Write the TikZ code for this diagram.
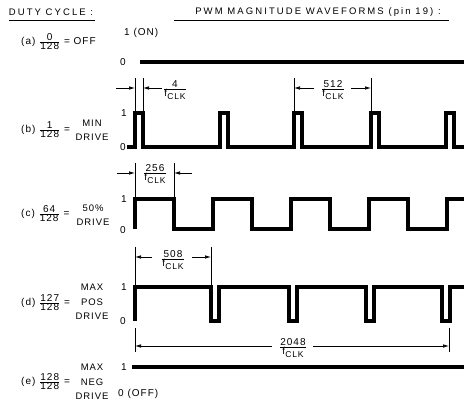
\documentclass[tikz,border=0pt]{standalone}
\usepackage{fontspec}
\setmainfont{Liberation Sans}[LetterSpace=10]
\newfontfamily\headfont{Liberation Sans}[LetterSpace=22]
\usetikzlibrary{arrows.meta,calc,positioning}
\newcommand{\ratiofont}{\fontsize{10pt}{10pt}\selectfont}
\newcommand{\ratio}[2]{$\frac{\hbox{\ratiofont #1}}{\hbox{\ratiofont #2}}$}
\newcommand{\dimfont}{\fontsize{10pt}{10pt}\selectfont}
\newcommand{\dimratio}[2]{$\frac{\hbox{\dimfont #1}}{\hbox{\dimfont #2}}$}
\newcommand{\fclk}{f\raisebox{-2.5pt}{\fontsize{8.5pt}{8.5pt}\selectfont CLK}}
\tikzset{
    wave/.style = {line width=3.2pt, line join=miter},
    rule/.style = {line width=0.9pt},
    ext/.style = {line width=0.7pt},
    dim/.style = {-{Latex[length=6pt,width=3.5pt]}, line width=0.7pt},
    head/.style = {inner sep=0pt, font=\headfont\fontsize{9.5pt}{10pt}\selectfont},
    lbl/.style = {anchor=west, inner sep=0pt, font=\fontsize{10pt}{11pt}\selectfont},
    drv/.style = {align=center, inner sep=0pt, font=\fontsize{9.5pt}{14.5pt}\selectfont},
    lvl/.style = {anchor=east, inner sep=0pt, font=\fontsize{10pt}{11pt}\selectfont},
    frac/.style = {inner sep=0pt}
}
\begin{document}
\begin{tikzpicture}[x=1pt,y=-1pt]
    \useasboundingbox (0,0) rectangle (464,406);

    % headings
    \node[head] (duty) at (51,12) {DUTY CYCLE :};
    \node[head] (pwm) at (318,12) {PWM MAGNITUDE WAVEFORMS (pin 19) :};
    \draw[rule] (9,20) -- (95,20);
    \draw[rule] (174,20) -- (449,20);

    % (a) always off
    \node[lbl] (a) at (21,42) {(a) \ratio{0}{128} = OFF};
    \node[lbl] (a1) at (124,33) {1 (ON)};
    \node[lvl] (a0) at (126,62) {0};
    \draw[wave] (140,62) -- (464,62);

    % (b) one pulse per period
    \node[lbl] (b) at (21,130) {(b) \ratio{1}{128} =};
    \node[drv] (bd) at (92,130) {MIN\\DRIVE};
    \node[lvl] (b1) at (127,113) {1};
    \node[lvl] (b0) at (126,147) {0};
    \draw[wave] (127,147) foreach \x in {135,220,294,371,446} {
        -- (\x,147) -- (\x,113) -- (\x+8,113) -- (\x+8,147) } -- (464,147);

    % 4/fclk, arrows from outside
    \coordinate (p4a) at (135,78);
    \coordinate (p4b) at (143,78);
    \coordinate (t4a) at (116,88);
    \coordinate (t4b) at (162,88);
    \draw[ext] (p4a) -- (p4a |- b1);
    \draw[ext] (p4b) -- (p4b |- b1);
    \draw[dim] (t4a) -- (p4a |- t4a);
    \draw[dim] (t4b) -- (p4b |- t4b);
    \node[frac] (d4) at (175,90) {\dimratio{4}{\fclk}};

    % 512/fclk
    \coordinate (p512a) at (294,78);
    \coordinate (p512b) at (371,78);
    \coordinate (t512a) at (314,88);
    \coordinate (t512b) at (351,88);
    \draw[ext] (p512a) -- (p512a |- b1);
    \draw[ext] (p512b) -- (p512b |- b1);
    \draw[dim] (t512a) -- (p512a |- t512a);
    \draw[dim] (t512b) -- (p512b |- t512b);
    \node[frac] (d512) at (333,90) {\dimratio{512}{\fclk}};

    % (c) square wave
    \node[lbl] (c) at (21,214) {(c) \ratio{64}{128} =};
    \node[drv] (cd) at (93,215) {50\%\\DRIVE};
    \node[lvl] (c1) at (127,199) {1};
    \node[lvl] (c0) at (126,230) {0};
    \draw[wave] (135,229) foreach \x in {135,213,291,369} {
        -- (\x,199) -- (\x+39,199) -- (\x+39,229) -- (\x+78,229) } -- (447,199) -- (464,199);

    % 256/fclk
    \coordinate (p256a) at (135,163);
    \coordinate (p256b) at (174,163);
    \coordinate (t256a) at (117,173);
    \coordinate (t256b) at (192,173);
    \draw[ext] (p256a) -- (p256a |- c1);
    \draw[ext] (p256b) -- (p256b |- c1);
    \draw[dim] (t256a) -- (p256a |- t256a);
    \draw[dim] (t256b) -- (p256b |- t256b);
    \node[frac] (d256) at (155,174) {\dimratio{256}{\fclk}};

    % (d) one gap per period
    \node[lbl] (d) at (21,303) {(d) \ratio{127}{128} =};
    \node[drv] (dd) at (92,302) {MAX\\POS\\DRIVE};
    \node[lvl] (d1) at (127,287) {1};
    \node[lvl] (d0) at (126,321) {0};
    \draw[wave] (135,321) -- (135,287) foreach \x in {211,289,366,442} {
        -- (\x,287) -- (\x,321) -- (\x+8,321) -- (\x+8,287) } -- (464,287);

    % 508/fclk
    \coordinate (p508a) at (135,247);
    \coordinate (p508b) at (211,247);
    \coordinate (t508a) at (152,257);
    \coordinate (t508b) at (192,257);
    \draw[ext] (p508a) -- (p508a |- d1);
    \draw[ext] (p508b) -- (p508b |- d1);
    \draw[dim] (t508a) -- (p508a |- t508a);
    \draw[dim] (t508b) -- (p508b |- t508b);
    \node[frac] (d508) at (173,260) {\dimratio{508}{\fclk}};

    % 2048/fclk
    \coordinate (p2048a) at (135,328);
    \coordinate (p2048b) at (449,328);
    \coordinate (t2048a) at (272,346);
    \coordinate (t2048b) at (313,346);
    \draw[ext] (p2048a) -- ++(0,24);
    \draw[ext] (p2048b) -- ++(0,24);
    \draw[dim] (t2048a) -- (p2048a |- t2048a);
    \draw[dim] (t2048b) -- (p2048b |- t2048b);
    \node[frac] (d2048) at (293,348) {\dimratio{2048}{\fclk}};

    % (e) always on
    \node[lbl] (e) at (21,382) {(e) \ratio{128}{128} =};
    \node[drv] (ed) at (92,382) {MAX\\NEG\\DRIVE};
    \node[lvl] (e1) at (127,367) {1};
    \node[lbl] (e0) at (118,394) {0 (OFF)};
    \draw[wave] (132,367) -- (464,367);

\end{tikzpicture}
\end{document}
